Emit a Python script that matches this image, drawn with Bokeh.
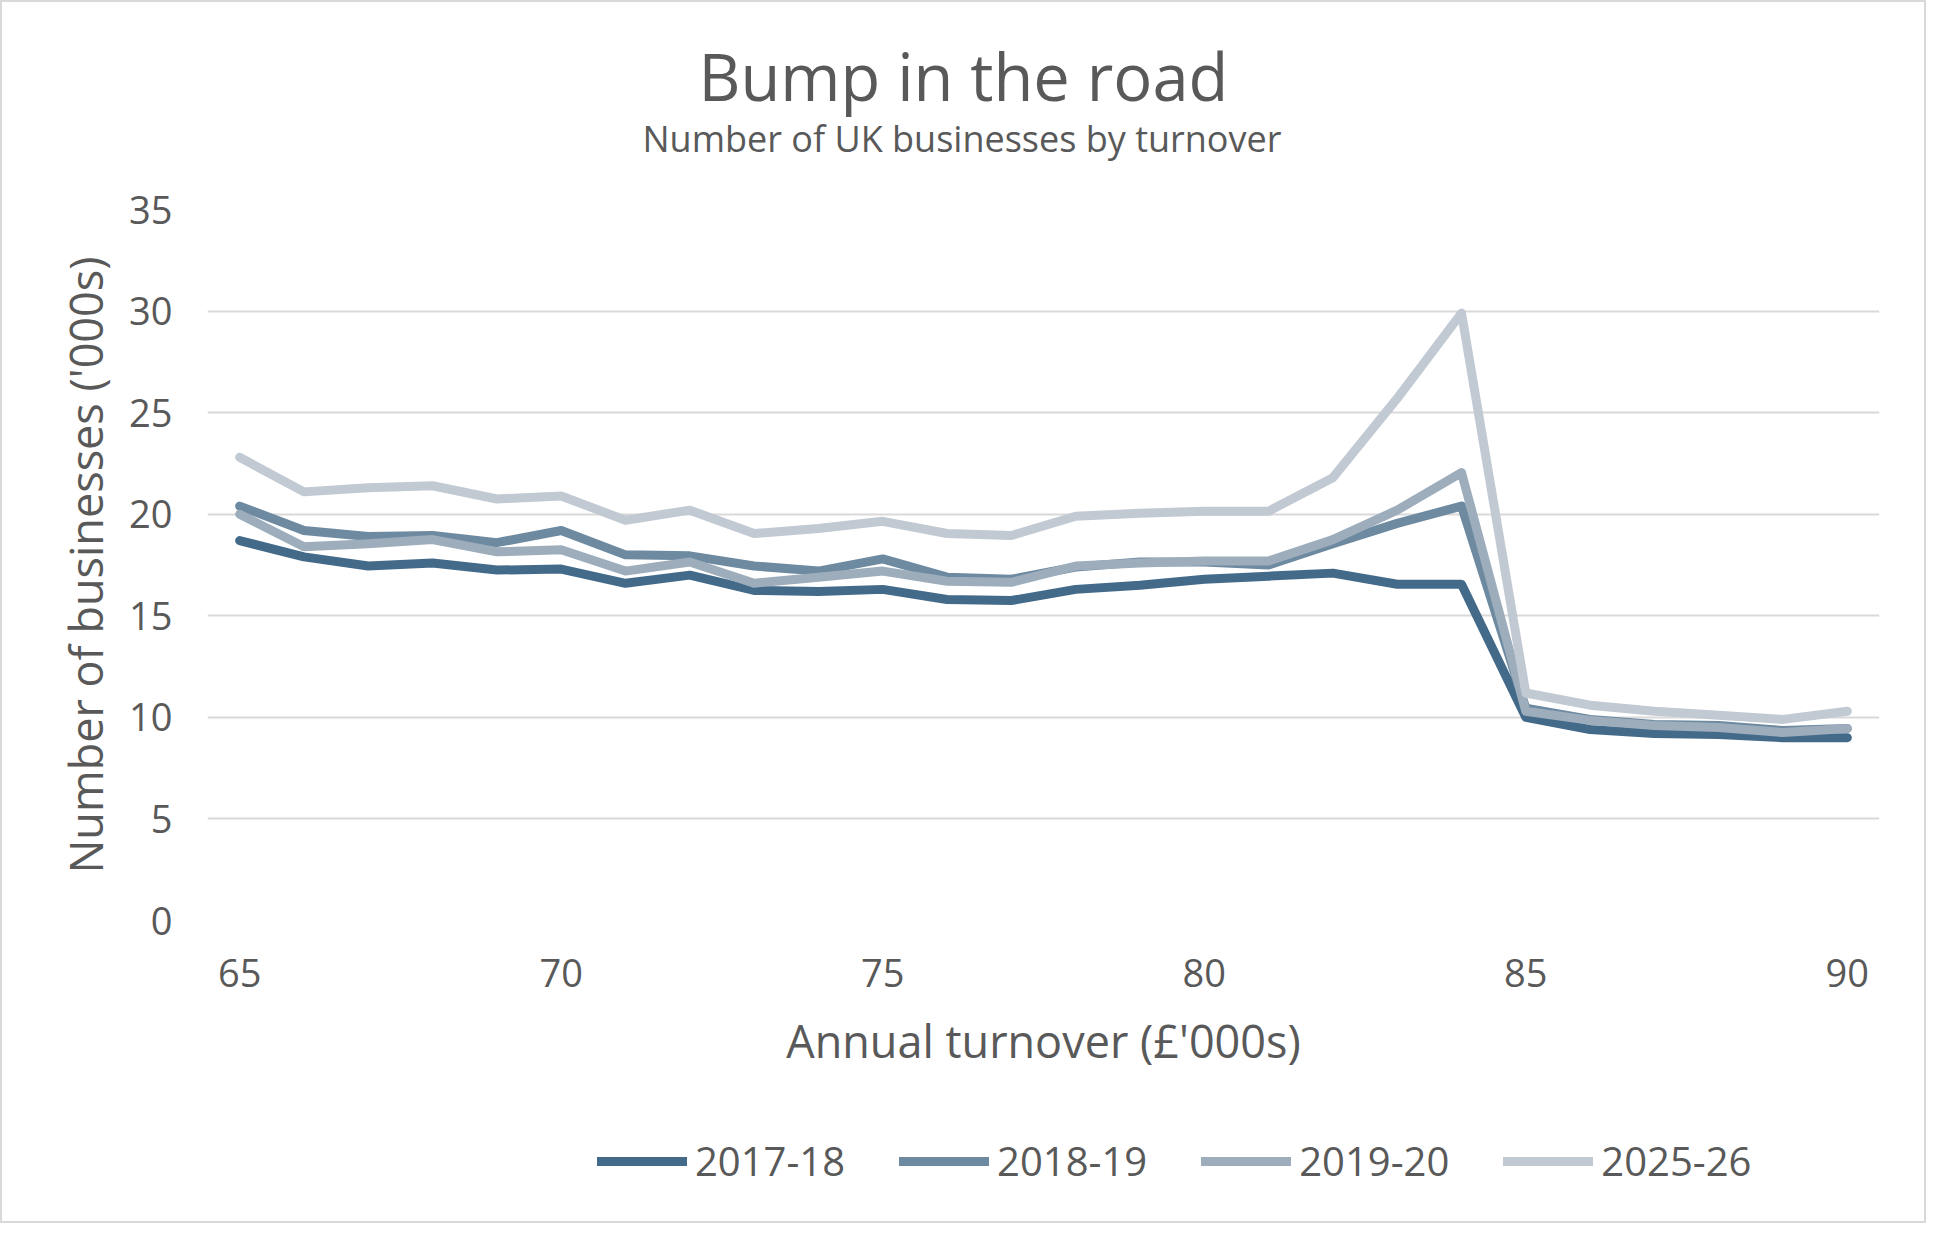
from bokeh.plotting import figure
from bokeh.models import Title, Legend, LegendItem, FixedTicker, Range1d
from bokeh.layouts import column
from bokeh.embed import file_html
from bokeh.resources import INLINE

# ---- data ----
turnover = [65, 66, 67, 68, 69, 70, 71, 72, 73, 74, 75, 76, 77,
            78, 79, 80, 81, 82, 83, 84, 85, 86, 87, 88, 89, 90]
series_names = ["2017-18", "2018-19", "2019-20", "2025-26"]
y_2017_18 = [18.7, 17.9, 17.45, 17.6, 17.25, 17.3, 16.6, 17.0, 16.25, 16.2, 16.3, 15.8, 15.75,
             16.3, 16.5, 16.8, 16.95, 17.1, 16.55, 16.55, 10.0, 9.4, 9.2, 9.15, 9.0, 9.0]
y_2018_19 = [20.4, 19.2, 18.9, 18.95, 18.6, 19.2, 18.0, 17.95, 17.45, 17.2, 17.8, 16.9, 16.8,
             17.4, 17.65, 17.65, 17.5, 18.55, 19.55, 20.4, 10.45, 9.9, 9.65, 9.6, 9.35, 9.45]
y_2019_20 = [20.0, 18.4, 18.55, 18.75, 18.15, 18.25, 17.2, 17.65, 16.6, 16.9, 17.2, 16.7, 16.65,
             17.45, 17.6, 17.7, 17.7, 18.75, 20.2, 22.05, 10.3, 9.85, 9.6, 9.5, 9.25, 9.45]
y_2025_26 = [22.8, 21.1, 21.3, 21.4, 20.75, 20.9, 19.7, 20.2, 19.05, 19.3, 19.65, 19.05, 18.95,
             19.9, 20.05, 20.15, 20.15, 21.8, 25.7, 29.9, 11.2, 10.6, 10.3, 10.1, 9.9, 10.3]
x_ticks = [65, 70, 75, 80, 85, 90]
y_ticks = [0, 5, 10, 15, 20, 25, 30, 35]

title_text = "Bump in the road"
subtitle_text = "Number of UK businesses by turnover"
x_label = "Annual turnover (£'000s)"
y_label = "Number of businesses ('000s)"

colors = ["#446a8a", "#6d8aa1", "#9dadbc", "#c1c9d3"]
FONT = "Open Sans"
TXT = "#595959"
all_y = [y_2017_18, y_2018_19, y_2019_20, y_2025_26]

# ---- main chart ----
p = figure(frame_width=1672, frame_height=711,
           output_backend="svg", toolbar_location=None,
           title=None,
           x_range=Range1d(64.5, 90.5), y_range=Range1d(0, 35),
           min_border_left=205, min_border_right=45,
           min_border_top=207, min_border_bottom=200)
p.outline_line_color = None
p.background_fill_color = "white"
p.border_fill_color = "white"

p.xgrid.visible = False
p.ygrid.grid_line_color = "#d9d9d9"
p.ygrid.grid_line_width = 2
p.yaxis.ticker = FixedTicker(ticks=y_ticks)
p.xaxis.ticker = FixedTicker(ticks=x_ticks)

for ax in (p.xaxis, p.yaxis):
    ax.axis_line_color = None
    ax.major_tick_line_color = None
    ax.minor_tick_line_color = None
    ax.major_tick_out = 0
    ax.major_tick_in = 0
    ax.major_label_text_font = FONT
    ax.major_label_text_font_size = "38px"
    ax.major_label_text_color = TXT
    ax.axis_label_text_font = FONT
    ax.axis_label_text_font_size = "45px"
    ax.axis_label_text_font_style = "normal"
    ax.axis_label_text_color = TXT

p.yaxis.axis_label = y_label
p.xaxis.axis_label = x_label
p.yaxis.major_label_standoff = 35
p.xaxis.major_label_standoff = 38
p.yaxis.axis_label_standoff = 10
p.xaxis.axis_label_standoff = 20

for name, ys, c in zip(series_names, all_y, colors):
    p.line(turnover, ys, line_color=c, line_width=9,
           line_cap="round", line_join="round")

sub = Title(text=subtitle_text, align="left", offset=435,
            text_font=FONT, text_font_size="36px", text_font_style="normal",
            text_color=TXT, standoff=93)
main = Title(text=title_text, align="left", offset=491,
             text_font=FONT, text_font_size="65px", text_font_style="normal",
             text_color=TXT, standoff=-108)
p.add_layout(sub, "above")
p.add_layout(main, "above")

# ---- legend strip (same series, outside its visible range) ----
q = figure(width=1922, height=101,
           output_backend="svg", toolbar_location=None, title=None,
           x_range=Range1d(0, 1), y_range=Range1d(0, 1),
           x_axis_location=None, y_axis_location=None,
           min_border_left=0, min_border_right=0,
           min_border_top=0, min_border_bottom=0)
q.outline_line_color = None
q.grid.visible = False
q.background_fill_color = "white"
q.border_fill_color = "white"

items = []
for name, ys, c in zip(series_names, all_y, colors):
    r = q.line(turnover, ys, line_color=c, line_width=9,
               line_cap="round", line_join="round")
    items.append(LegendItem(label=name, renderers=[r]))

legend = Legend(items=items, orientation="horizontal", location=(390, 33),
                label_text_font=FONT, label_text_font_size="40px",
                label_text_color=TXT, glyph_width=90, glyph_height=20,
                label_standoff=8, spacing=54, border_line_color=None,
                background_fill_alpha=0, margin=0, padding=0)
q.add_layout(legend, "center")

layout = column(p, q, spacing=0)
layout.styles = {"border": "2px solid #d9d9d9"}

open("out.html", "w").write(file_html(layout, INLINE))
